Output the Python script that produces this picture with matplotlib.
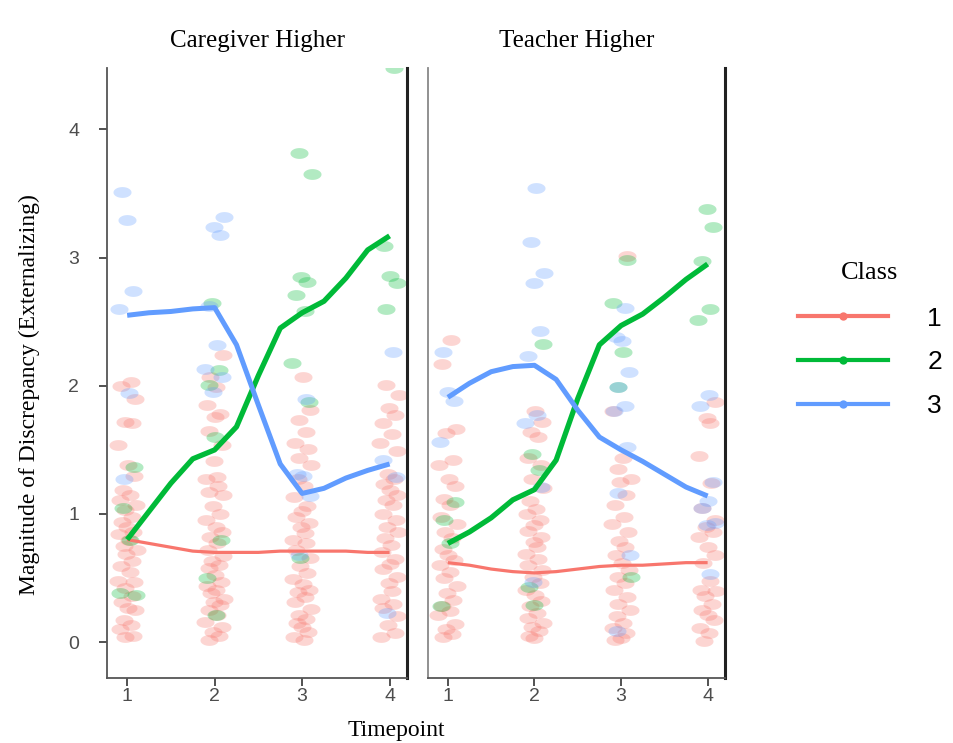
import numpy as np
import matplotlib
matplotlib.use("Agg")
import matplotlib.pyplot as plt
from matplotlib.path import Path
from matplotlib.lines import Line2D

# ---------------- data ----------------
panels = ["Caregiver Higher", "Teacher Higher"]
timepoints = [1, 2, 3, 4]
class_labels = ["1", "2", "3"]
class_colors = ["#F8766D", "#00BA38", "#619CFF"]

# observed points, per class, list per timepoint (Caregiver Higher)
cg_class1 = [
    [2.03, 2.00, 1.90, 1.72, 1.71, 1.54, 1.38, 1.30, 1.19, 1.15, 1.11, 1.07, 1.03, 0.98, 0.94, 0.90, 0.86, 0.84,
     0.80, 0.75, 0.72, 0.69, 0.63, 0.59, 0.55, 0.48, 0.47, 0.42, 0.36, 0.31, 0.27, 0.25, 0.17, 0.13, 0.10, 0.05, 0.04],
    [2.24, 2.07, 1.99, 1.85, 1.78, 1.76, 1.65, 1.54, 1.41, 1.29, 1.27, 1.22, 1.17, 1.15, 1.06, 1.00, 0.95, 0.90,
     0.86, 0.82, 0.77, 0.72, 0.67, 0.63, 0.60, 0.58, 0.52, 0.47, 0.44, 0.41, 0.38, 0.34, 0.31, 0.29, 0.25, 0.21,
     0.16, 0.12, 0.08, 0.05, 0.02],
    [2.07, 1.81, 1.73, 1.64, 1.55, 1.51, 1.44, 1.38, 1.27, 1.22, 1.13, 1.06, 1.02, 0.98, 0.93, 0.90, 0.85, 0.80,
     0.77, 0.72, 0.66, 0.59, 0.54, 0.49, 0.45, 0.41, 0.39, 0.35, 0.31, 0.26, 0.21, 0.18, 0.15, 0.12, 0.08, 0.04, 0.02],
    [2.01, 1.93, 1.83, 1.77, 1.71, 1.62, 1.55, 1.49, 1.31, 1.27, 1.23, 1.19, 1.15, 1.11, 1.07, 1.00, 0.95, 0.90,
     0.86, 0.81, 0.76, 0.70, 0.65, 0.61, 0.57, 0.51, 0.46, 0.40, 0.34, 0.30, 0.27, 0.20, 0.13, 0.07, 0.04],
]
cg_class2 = [
    [1.37, 1.05, 0.80, 0.38, 0.37],
    [2.65, 2.12, 2.01, 1.60, 0.80, 0.50, 0.21],
    [3.82, 3.65, 2.85, 2.81, 2.71, 2.58, 2.18, 1.87, 0.66],
    [4.48, 3.09, 2.86, 2.80, 2.60],
]
cg_class3 = [
    [3.51, 3.29, 2.74, 2.60, 1.94, 1.27],
    [3.32, 3.24, 3.18, 2.62, 2.32, 2.13, 2.07, 1.95],
    [1.90, 1.31, 1.30, 1.14, 0.68],
    [2.26, 1.42, 1.29, 0.23],
]

# observed points (Teacher Higher)
tc_class1 = [
    [2.36, 2.17, 1.66, 1.63, 1.42, 1.38, 1.27, 1.22, 1.12, 1.07, 0.98, 0.92, 0.86, 0.81, 0.73, 0.68, 0.64, 0.60,
     0.55, 0.50, 0.44, 0.38, 0.33, 0.28, 0.24, 0.21, 0.14, 0.10, 0.06, 0.04],
    [1.80, 1.72, 1.64, 1.60, 1.44, 1.38, 1.27, 1.20, 1.10, 1.04, 1.00, 0.95, 0.91, 0.87, 0.82, 0.78, 0.74, 0.69,
     0.65, 0.60, 0.56, 0.51, 0.46, 0.41, 0.37, 0.32, 0.28, 0.23, 0.19, 0.15, 0.12, 0.09, 0.05, 0.03],
    [3.01, 1.80, 1.44, 1.35, 1.27, 1.25, 1.15, 1.07, 0.98, 0.92, 0.86, 0.79, 0.74, 0.68, 0.62, 0.56, 0.51, 0.46,
     0.41, 0.35, 0.30, 0.25, 0.20, 0.15, 0.11, 0.07, 0.03, 0.02],
    [1.87, 1.75, 1.71, 1.45, 1.24, 1.05, 0.95, 0.90, 0.86, 0.82, 0.74, 0.68, 0.62, 0.48, 0.41, 0.40, 0.36, 0.30,
     0.25, 0.21, 0.17, 0.11, 0.07, 0.01],
]
tc_class2 = [
    [1.09, 0.95, 0.77, 0.28],
    [2.33, 1.47, 1.34, 0.43, 0.29],
    [2.98, 2.65, 2.26, 1.99, 0.51],
    [3.38, 3.24, 2.97, 2.60, 2.51],
]
tc_class3 = [
    [2.26, 1.95, 1.88, 1.56],
    [3.54, 3.12, 2.88, 2.80, 2.43, 2.23, 1.77, 1.71, 1.21, 0.47],
    [2.61, 2.38, 2.35, 2.11, 1.99, 1.84, 1.80, 1.52, 1.16, 0.68, 0.09],
    [1.93, 1.84, 1.25, 1.10, 1.05, 0.93, 0.91, 0.53],
]

# horizontal jitter offsets (read as spread of columns)
jitter = [0.04, -0.07, 0.09, -0.02, 0.06, -0.10, 0.01, 0.08, -0.05, 0.03, -0.08, 0.10, -0.03, 0.05, -0.06,
          0.00, 0.07, -0.09, 0.02, -0.04, 0.11, -0.01, 0.06, -0.07, 0.03, -0.11, 0.08, -0.02, 0.05, -0.06,
          0.01, 0.09, -0.04, 0.04, -0.08, 0.07, -0.03, 0.10, -0.05, 0.02, -0.09, 0.06, 0.00, -0.07, 0.08,
          -0.01, 0.03, -0.10]

# smoothed trajectories
smooth_x = [1.0, 1.25, 1.5, 1.75, 2.0, 2.25, 2.5, 2.75, 3.0, 3.25, 3.5, 3.75, 4.0]
cg_smooth1 = [0.80, 0.77, 0.74, 0.71, 0.70, 0.70, 0.70, 0.71, 0.71, 0.71, 0.71, 0.70, 0.70]
cg_smooth2 = [0.80, 1.02, 1.24, 1.43, 1.50, 1.68, 2.08, 2.45, 2.57, 2.66, 2.84, 3.06, 3.17]
cg_smooth3 = [2.55, 2.57, 2.58, 2.60, 2.61, 2.32, 1.85, 1.39, 1.16, 1.20, 1.28, 1.34, 1.39]
tc_smooth1 = [0.62, 0.60, 0.57, 0.55, 0.54, 0.55, 0.57, 0.59, 0.60, 0.60, 0.61, 0.62, 0.62]
tc_smooth2 = [0.77, 0.86, 0.97, 1.11, 1.19, 1.42, 1.90, 2.32, 2.47, 2.56, 2.69, 2.83, 2.95]
tc_smooth3 = [1.91, 2.02, 2.11, 2.15, 2.16, 2.05, 1.81, 1.60, 1.50, 1.41, 1.31, 1.21, 1.14]

panel_points = [[cg_class1, cg_class2, cg_class3], [tc_class1, tc_class2, tc_class3]]
panel_smooth = [[cg_smooth1, cg_smooth2, cg_smooth3], [tc_smooth1, tc_smooth2, tc_smooth3]]

# ---------------- style ----------------
t = np.linspace(0, 2 * np.pi, 40)
ellipse = Path(np.column_stack([np.cos(t), 0.6 * np.sin(t)]), closed=True)
line_widths = [2.3, 3.8, 3.6]

SERIF = ["Liberation Serif", "DejaVu Serif"]
SANS = ["Liberation Sans", "DejaVu Sans"]

fig = plt.figure(figsize=(9.54, 7.43), dpi=100)
ax_pos = [[0.1122, 0.0875, 0.3145, 0.821], [0.4486, 0.0875, 0.3113, 0.821]]

for p, title in enumerate(panels):
    ax = fig.add_axes(ax_pos[p])
    for c in range(3):
        groups = panel_points[p][c]
        xs, ys = [], []
        k = c * 7
        for ti, tp in enumerate(timepoints):
            for v in groups[ti]:
                xs.append(tp + jitter[k % len(jitter)])
                ys.append(v)
                k += 1
        ax.plot(xs, ys, linestyle="none", marker=ellipse, markersize=13,
                markerfacecolor=class_colors[c], markeredgecolor="none", alpha=0.3, zorder=2)
    for c in range(3):
        ax.plot(smooth_x, panel_smooth[p][c], color=class_colors[c], lw=line_widths[c],
                solid_capstyle="butt", zorder=3)
    ax.set_xlim(0.77, 4.2)
    ax.set_ylim(-0.28, 4.48)
    ax.set_xticks(timepoints)
    ax.set_xticklabels([str(v) for v in timepoints], fontfamily=SANS, fontsize=14, color="#4D4D4D")
    ax.spines["top"].set_visible(False)
    ax.spines["right"].set_linewidth(2.2)
    ax.spines["right"].set_color("#222222")
    ax.spines["bottom"].set_color("#555555")
    ax.spines["bottom"].set_linewidth(1.3)
    ax.tick_params(axis="x", direction="out", length=6, width=1.2, color="#333333", pad=1)
    if p == 0:
        ax.set_yticks([0, 1, 2, 3, 4])
        ax.set_yticklabels(["0", "1", "2", "3", "4"], fontfamily=SANS, fontsize=14, color="#4D4D4D")
        ax.tick_params(axis="y", direction="out", length=6, width=1.2, color="#333333", pad=14)
        ax.spines["left"].set_color("#555555")
        ax.spines["left"].set_linewidth(1.3)
        ax.set_ylabel("Magnitude of Discrepancy (Externalizing)", fontfamily=SERIF, fontsize=17)
        ax.yaxis.set_label_coords(-0.225, 0.464)
    else:
        ax.set_yticks([])
        ax.spines["left"].set_color("#888888")
        ax.spines["left"].set_linewidth(1.3)
    ax.set_title(title, fontfamily=SERIF, fontsize=18, pad=15)

fig.text(0.415, 0.0094, "Timepoint", fontfamily=SERIF, fontsize=17, ha="center", va="baseline")

handles = [Line2D([], [], color=class_colors[c], lw=3, marker="o", markersize=6,
                  markerfacecolor=class_colors[c], markeredgecolor="none", alpha=1.0)
           for c in range(3)]
leg = fig.legend(handles, class_labels, loc="center", bbox_to_anchor=(0.912, 0.542),
                 frameon=False, title="Class", handlelength=3.4, handletextpad=1.5,
                 labelspacing=0.75, prop={"family": SANS, "size": 19},
                 title_fontproperties={"family": SERIF, "size": 19})
leg._legend_box.sep = 16

fig.savefig("out.png", dpi=100)
